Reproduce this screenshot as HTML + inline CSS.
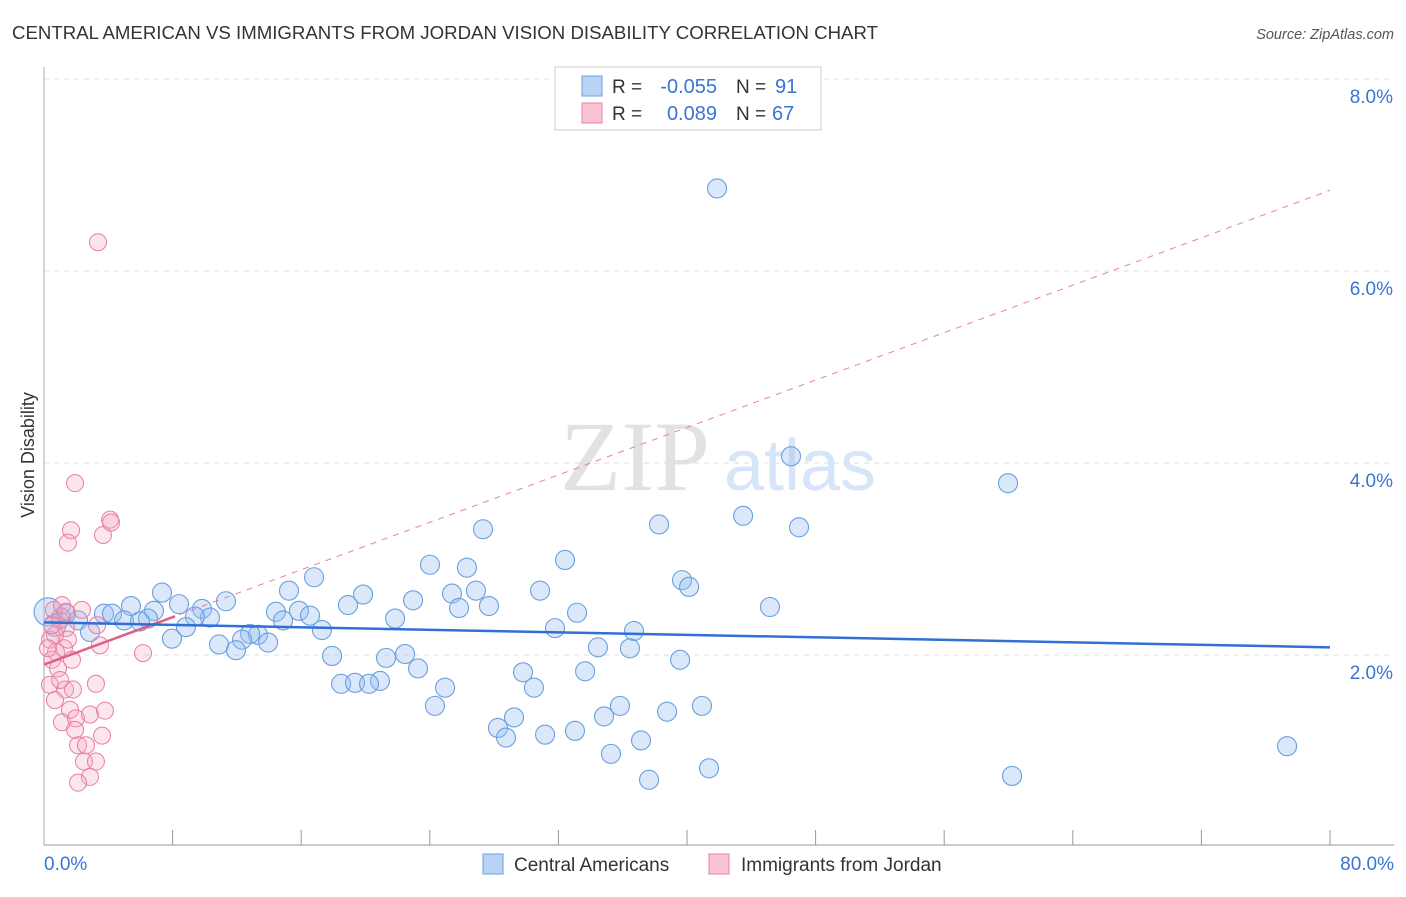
<!DOCTYPE html>
<html><head><meta charset="utf-8"><style>
body{margin:0;background:#fff;font-family:"Liberation Sans",sans-serif;}
svg text{font-family:"Liberation Sans",sans-serif;}
</style></head><body>
<svg id="chart" width="1406" height="892">
<text x="12" y="39" font-size="18" fill="#333" textLength="866" lengthAdjust="spacingAndGlyphs">CENTRAL AMERICAN VS IMMIGRANTS FROM JORDAN VISION DISABILITY CORRELATION CHART</text>
<text x="1394" y="39" font-size="14.5" fill="#555" font-style="italic" text-anchor="end">Source: ZipAtlas.com</text>
<g id="grid"></g>
<text x="635" y="490" font-size="100" fill="#e2e2e2" text-anchor="middle" style="font-family:'Liberation Serif',serif">ZIP</text>
<text x="800" y="490" font-size="72" fill="#d6e5f7" text-anchor="middle">atlas</text>
<g id="marks"></g>
<text x="34" y="455" font-size="18" fill="#333" text-anchor="middle" transform="rotate(-90 34 455)">Vision Disability</text>
<g>
<rect x="555" y="67" width="266" height="63" fill="#fff" stroke="#ccc"/>
<rect x="582" y="76" width="20" height="20" fill="#b9d3f4" stroke="#6a9fe0"/>
<rect x="582" y="103" width="20" height="20" fill="#f9c4d4" stroke="#e87fa0"/>
<text x="612" y="93" font-size="19" fill="#333">R =</text>
<text x="717" y="93" font-size="20" fill="#3a74d4" text-anchor="end">-0.055</text>
<text x="736" y="93" font-size="19" fill="#333">N =</text>
<text x="775" y="93" font-size="20" fill="#3a74d4">91</text>
<text x="612" y="120" font-size="19" fill="#333">R =</text>
<text x="717" y="120" font-size="20" fill="#3a74d4" text-anchor="end">0.089</text>
<text x="736" y="120" font-size="19" fill="#333">N =</text>
<text x="772" y="120" font-size="20" fill="#3a74d4">67</text>
</g>
<g>
<rect x="483" y="854" width="20" height="20" fill="#b9d3f4" stroke="#6a9fe0"/>
<text x="514" y="871" font-size="19" fill="#333">Central Americans</text>
<rect x="709" y="854" width="20" height="20" fill="#f9c4d4" stroke="#e87fa0"/>
<text x="741" y="871" font-size="19" fill="#333">Immigrants from Jordan</text>
</g>
</svg>
<script>
const xTicks=[0,80];
const yTicks=[2,4,6,8];
const blueX=[41.87,46.47,59.97,43.49,38.26,46.97,27.31,32.41,24.01,26.31,16.80,39.69,40.13,7.34,15.24,30.86,19.85,25.38,26.87,11.32,22.96,8.40,18.91,25.82,27.68,5.41,45.16,9.83,33.16,6.84,15.86,14.43,3.73,1.37,4.23,21.84,10.33,16.55,14.87,4.98,6.47,9.39,5.97,1.06,2.12,2.86,8.83,17.29,31.79,36.70,13.31,12.82,7.96,12.32,10.89,13.94,11.94,34.46,36.45,22.46,17.92,21.28,39.57,23.27,29.80,33.66,20.90,18.48,19.35,20.22,30.48,24.95,24.32,35.83,40.93,34.84,38.76,29.24,28.24,33.03,28.74,31.17,37.14,77.33,35.27,41.37,37.64,60.22,0.25,0.68];
const blueY=[6.86,4.07,3.79,3.45,3.36,3.33,3.31,2.99,2.94,2.91,2.81,2.78,2.71,2.65,2.67,2.67,2.63,2.64,2.67,2.56,2.57,2.53,2.52,2.49,2.51,2.51,2.50,2.48,2.44,2.46,2.46,2.45,2.43,2.43,2.43,2.38,2.39,2.41,2.36,2.36,2.38,2.40,2.35,2.39,2.36,2.24,2.29,2.26,2.28,2.25,2.21,2.22,2.17,2.16,2.11,2.13,2.05,2.08,2.07,2.01,1.99,1.97,1.95,1.86,1.82,1.83,1.73,1.70,1.71,1.70,1.66,1.66,1.47,1.47,1.47,1.36,1.41,1.35,1.24,1.21,1.14,1.17,1.11,1.05,0.97,0.82,0.70,0.74,2.45,2.31];
const pinkX=[3.36,1.93,4.11,1.68,1.49,3.67,4.17,0.62,1.00,1.37,0.37,0.75,1.24,0.50,0.87,0.37,1.31,1.80,3.23,0.68,1.62,1.12,1.99,2.86,3.79,2.12,2.61,3.61,2.49,3.23,2.86,2.12,6.16,3.48,3.30,2.36,1.12,1.49,1.74,1.00,1.93,0.68,0.25,0.50,1.37];
const pinkY=[6.30,3.79,3.41,3.30,3.17,3.25,3.38,2.47,2.36,2.28,2.16,2.03,2.07,1.95,1.86,1.69,1.64,1.64,1.70,1.53,1.43,1.30,1.34,1.38,1.42,1.06,1.06,1.16,0.89,0.89,0.73,0.67,2.02,2.10,2.31,2.47,2.52,2.16,1.95,1.74,1.22,2.21,2.07,2.31,2.45];
const blueTrend=[2.34,2.08];
const pinkTrend=[1.90,6.84];
const pinkSolidEnd=8.15;
const NS='http://www.w3.org/2000/svg';
const X=v=>44+v*1286/80, Y=v=>847-v*96;
function mk(t,a,p){const e=document.createElementNS(NS,t);for(const k in a)e.setAttribute(k,a[k]);p.appendChild(e);return e;}
const g=document.getElementById('grid'), m=document.getElementById('marks');
yTicks.forEach(t=>{
 const l=mk('line',{x1:44,x2:1394,y1:Y(t),y2:Y(t),stroke:'#ddd','stroke-dasharray':'5,5'},g);
 
 
 const tx=mk('text',{x:1393,y:Y(t)+24,'font-size':19,fill:'#3a74d4','text-anchor':'end'},g);tx.textContent=t.toFixed(1)+'%';
 
 
});
const ax=mk('line',{x1:44,x2:1394,y1:845,y2:845,stroke:'#999'},g);


const ay=mk('line',{x1:44,x2:44,y1:67,y2:845,stroke:'#aaa'},g);


for(let i=1;i<=10;i++){const tk=mk('line',{x1:X(i*8),x2:X(i*8),y1:830,y2:845,stroke:'#999'},g);
 
 }
xTicks.forEach((t,i)=>{const tx=mk('text',{x:i?1394:44,y:870,'font-size':19,fill:'#3a74d4','text-anchor':i?'end':'start'},g);tx.textContent=t.toFixed(1)+'%';
 
 });
blueX.forEach((v,i)=>{const c=mk('circle',{cx:X(v),cy:Y(blueY[i]),r:i>=88?(i==88?14:11):9.5,fill:'rgba(150,190,240,0.35)',stroke:'#6a9fe0','stroke-width':1.1},m);
 
 });
pinkX.forEach((v,i)=>{const c=mk('circle',{cx:X(v),cy:Y(pinkY[i]),r:8.5,fill:'rgba(246,170,195,0.3)',stroke:'#e87fa0','stroke-width':1},m);
 
 });
const pd=mk('line',{x1:X(0),y1:Y(pinkTrend[0]),x2:X(80),y2:Y(pinkTrend[1]),stroke:'#e87fa0','stroke-dasharray':'6,6','stroke-width':1},m);


const ps=mk('line',{x1:X(0),y1:Y(pinkTrend[0]),x2:X(pinkSolidEnd),y2:Y(pinkTrend[0]+(pinkTrend[1]-pinkTrend[0])*pinkSolidEnd/80),stroke:'#e0608a','stroke-width':2.5},m);


const bl=mk('line',{x1:X(0),y1:Y(blueTrend[0]),x2:X(80),y2:Y(blueTrend[1]),stroke:'#2f6fd6','stroke-width':2.5},m);


</script>
</body></html>
